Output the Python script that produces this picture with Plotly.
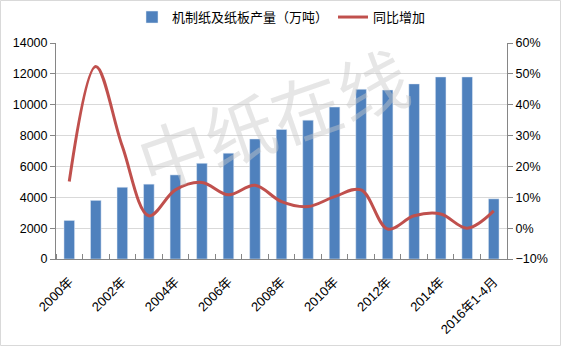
import plotly.graph_objects as go

# Categories (years) and series
years = ["2000年", "2001年", "2002年", "2003年", "2004年", "2005年", "2006年", "2007年",
         "2008年", "2009年", "2010年", "2011年", "2012年", "2013年", "2014年", "2015年",
         "2016年1-4月"]
output = [2500, 3800, 4650, 4850, 5450, 6200, 6860, 7780, 8400, 9000, 9850,
          11000, 10950, 11350, 11800, 11800, 3900]
growth = [0.151, 0.524, 0.265, 0.040, 0.124, 0.148, 0.108, 0.139, 0.086, 0.070,
          0.102, 0.124, -0.003, 0.040, 0.046, 0.000, 0.056]

bar_name = "机制纸及纸板产量（万吨）"
line_name = "同比增加"

idx = list(range(len(years)))
tick_idx = idx[::2]
tick_text = [years[i] for i in tick_idx]

fig = go.Figure()
fig.add_trace(go.Bar(x=idx, y=output, name=bar_name, marker_color="#4F81BD",
                     width=0.4, yaxis="y"))
fig.add_trace(go.Scatter(x=idx, y=growth, name=line_name, mode="lines",
                         line=dict(color="#C0504D", width=3, shape="spline", smoothing=1.0),
                         yaxis="y2"))

font_cjk = "Arial, Liberation Sans, Noto Sans CJK SC"
axis_col = "#868686"

fig.update_layout(
    width=561, height=346,
    margin=dict(l=56, r=54, t=43, b=87, autoexpand=False),
    paper_bgcolor="white", plot_bgcolor="white",
    font=dict(family=font_cjk, size=12, color="#000000"),
    showlegend=True,
    legend=dict(orientation="h", x=0.5, xanchor="center", y=1.12, yanchor="middle",
                font=dict(size=13, family="Noto Sans CJK SC, Arial"),
                itemwidth=30, tracegroupgap=0, bgcolor="rgba(0,0,0,0)"),
    xaxis=dict(range=[-0.5, 16.5], tickmode="array", tickvals=tick_idx, ticktext=tick_text,
               tickangle=-45, ticks="", showgrid=False, showline=True, linecolor=axis_col,
               linewidth=1, zeroline=False, ticklabelstandoff=9,
               tickfont=dict(family="Arial, Noto Sans CJK SC", size=13),
               minor=dict(tick0=0.5, dtick=1, ticks="inside", ticklen=5, tickcolor=axis_col,
                          showgrid=False)),
    yaxis=dict(range=[0, 14000], dtick=2000, showgrid=True, gridcolor="#D9D9D9",
               showline=True, linecolor=axis_col, ticks="outside", ticklen=5,
               tickcolor=axis_col, zeroline=False, tickformat="d",
               tickfont=dict(size=12.5)),
    yaxis2=dict(range=[-0.1, 0.6], dtick=0.1, tickformat=".0%", overlaying="y",
                side="right", showgrid=False, showline=True, linecolor=axis_col,
                ticks="outside", ticklen=5, tickcolor=axis_col, zeroline=False,
                tickfont=dict(size=12.5)),
    bargap=0.6,
)

# Watermark text across the plot
fig.add_annotation(text="中纸在线", xref="paper", yref="paper", x=0.479, y=0.66,
                   xanchor="center", yanchor="middle",
                   showarrow=False, textangle=-19,
                   font=dict(size=70, color="rgba(200,200,200,0.45)",
                             family="Noto Sans CJK SC"))

# Thin frame around the whole chart
pw, ph = 561 - 56 - 54, 346 - 43 - 87
fig.add_shape(type="rect", xref="paper", yref="paper",
              x0=-55.5 / pw, x1=1 + 53.5 / pw, y0=-86.5 / ph, y1=1 + 42.5 / ph,
              line=dict(color="#D9D9D9", width=1), fillcolor="rgba(0,0,0,0)", layer="below")

fig.write_html("out.html")
